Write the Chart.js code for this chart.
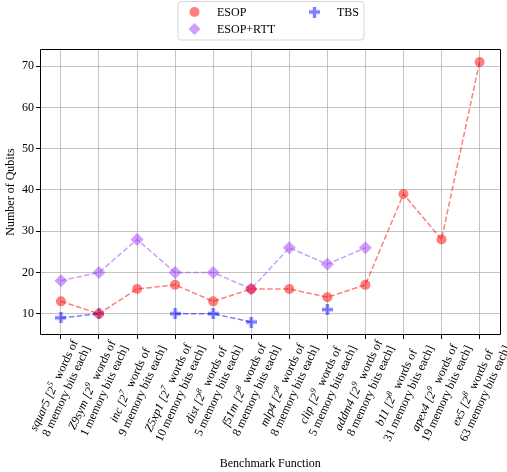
<!DOCTYPE html>
<html>
<head>
<meta charset="utf-8">
<script src="https://cdn.jsdelivr.net/npm/chart.js@4.4.1/dist/chart.umd.min.js"></script>
<style>
html,body{margin:0;padding:0;background:#fff;}
#wrap{width:507px;height:472px;position:relative;}
</style>
</head>
<body>
<div id="wrap"><canvas id="c" width="507" height="472"></canvas></div>
<script>
// ---- data ----
const names = ['squar5','Z9sym','inc','Z5xp1','dist','f51m','mlp4','clip','addm4','b11','apex4','ex5'];
const wordExp = ['5','9','7','7','8','8','8','9','9','8','9','8'];
const memBits = ['8','1','9','10','5','8','8','5','8','31','19','63'];
const esop    = [13,10,16,17,13,16,16,14,17,39,28,71];
const esopRtt = [18,20,28,20,20,16,26,22,26,null,null,null];
const tbs     = [9,10,null,10,10,8,null,11,null,null,null,null];
const yTicks  = [10,20,30,40,50,60,70];
const seriesNames = ['ESOP','ESOP+RTT','TBS'];

const FONT = '"Liberation Serif","Times New Roman",serif';
const RED = 'rgba(255,0,0,0.5)';
const VIO = 'rgba(160,60,250,0.5)';
const BLU = 'rgba(0,0,255,0.5)';

function plusCanvas(color){
  const s = 11, c = document.createElement('canvas');
  c.width = s; c.height = s;
  const g = c.getContext('2d');
  g.fillStyle = color;
  const t = 3.4, m = (s - t)/2;
  g.beginPath();
  g.moveTo(m,0); g.lineTo(m+t,0); g.lineTo(m+t,m); g.lineTo(s,m); g.lineTo(s,m+t);
  g.lineTo(m+t,m+t); g.lineTo(m+t,s); g.lineTo(m,s); g.lineTo(m,m+t); g.lineTo(0,m+t);
  g.lineTo(0,m); g.lineTo(m,m); g.closePath(); g.fill();
  return c;
}
const plusImg = plusCanvas(BLU);

const toXY = arr => arr.map((v,i)=>({x:i,y:v}));
const nMax = names.length - 1;
const xPad = 0.05 * nMax;
const yLo = 8, yHi = 71, yPad = 0.05*(yHi-yLo);

function drawParts(ctx, parts, cx, baseY){
  let w = 0;
  parts.forEach(p=>{ctx.font=p.font; p.w = ctx.measureText(p.t).width + (p.gap||0); w += p.w;});
  let x = cx - w/2;
  parts.forEach(p=>{ctx.font=p.font; ctx.fillText(p.t, x + (p.gap||0), baseY + (p.dy||0)); x += p.w;});
  return w;
}
function lineWidth(ctx, parts){
  let w=0; parts.forEach(p=>{ctx.font=p.font; w+=ctx.measureText(p.t).width + (p.gap||0);}); return w;
}

const overlay = {
  id:'overlay',
  afterDraw(chart){
    const ctx = chart.ctx, a = chart.chartArea;
    const xs = chart.scales.x;
    ctx.save();
    ctx.setLineDash([]);
    // frame
    const L = Math.round(a.left)+0.5, R = Math.round(a.right)-0.5, T = Math.round(a.top)+0.5, B = Math.round(a.bottom)-0.5;
    ctx.strokeStyle = '#000'; ctx.lineWidth = 1;
    ctx.beginPath();
    ctx.moveTo(L,T); ctx.lineTo(R,T); ctx.lineTo(R,B); ctx.lineTo(L,B); ctx.closePath();
    ctx.stroke();
    ctx.fillStyle = '#000';
    ctx.textBaseline = 'alphabetic';
    ctx.textAlign = 'left';
    // x tick labels (rotated, two lines)
    const th = 65*Math.PI/180, lh = 13.5;
    const it = 'italic 12px '+FONT, nf = '12px '+FONT, sf = 'italic 8.5px '+FONT;
    names.forEach((n,i)=>{
      const l1 = [{t:n+' [2',font:it},{t:wordExp[i],font:sf,dy:-5},{t:' words of',font:nf,gap:2.5}];
      const l2 = [{t:memBits[i]+' memory bits each]',font:nf}];
      const W = Math.max(lineWidth(ctx,l1), lineWidth(ctx,l2));
      const H = 2*lh;
      const bh = W*Math.sin(th) + H*Math.cos(th);
      const tx = xs.getPixelForValue(i);
      const cy = a.bottom + 3 + bh/2;
      ctx.save();
      ctx.translate(tx, cy);
      ctx.rotate(-th);
      drawParts(ctx, l1, 0, -lh + 9.5);
      drawParts(ctx, l2, 0, 9.5);
      ctx.restore();
    });
    // axis titles
    ctx.font = '12px '+FONT;
    ctx.textAlign = 'center';
    ctx.textBaseline = 'middle';
    ctx.fillText('Benchmark Function', (a.left+a.right)/2, 464);
    ctx.save();
    ctx.translate(10.5, (a.top+a.bottom)/2);
    ctx.rotate(-Math.PI/2);
    ctx.fillText('Number of Qubits', 0, 0);
    ctx.restore();
    // legend
    const lx=178, ly=1.5, lw=186, lhh=38.5, r=3;
    ctx.beginPath();
    ctx.moveTo(lx+r,ly); ctx.lineTo(lx+lw-r,ly); ctx.arcTo(lx+lw,ly,lx+lw,ly+r,r);
    ctx.lineTo(lx+lw,ly+lhh-r); ctx.arcTo(lx+lw,ly+lhh,lx+lw-r,ly+lhh,r);
    ctx.lineTo(lx+r,ly+lhh); ctx.arcTo(lx,ly+lhh,lx,ly+lhh-r,r);
    ctx.lineTo(lx,ly+r); ctx.arcTo(lx,ly,lx+r,ly,r); ctx.closePath();
    ctx.fillStyle='rgba(255,255,255,0.8)'; ctx.fill();
    ctx.strokeStyle='#d6d6d6'; ctx.lineWidth=1; ctx.stroke();
    ctx.fillStyle = RED; ctx.beginPath(); ctx.arc(194.5,12,5,0,Math.PI*2); ctx.fill();
    ctx.fillStyle = VIO; ctx.beginPath();
    ctx.moveTo(194.5,23); ctx.lineTo(200.5,29); ctx.lineTo(194.5,35); ctx.lineTo(188.5,29); ctx.closePath(); ctx.fill();
    ctx.drawImage(plusImg, 314.5-5.5, 12-5.5);
    ctx.fillStyle='#000'; ctx.textAlign='left'; ctx.font='12px '+FONT;
    ctx.fillText(seriesNames[0], 217, 12.5);
    ctx.fillText(seriesNames[1], 217, 29.5);
    ctx.fillText(seriesNames[2], 337, 12.5);
    ctx.restore();
  }
};

const dash = [5.5,2.4];
new Chart(document.getElementById('c'), {
  type:'line',
  data:{
    datasets:[
      {label:seriesNames[0], data:toXY(esop), borderColor:RED, backgroundColor:RED, borderWidth:1.5, borderDash:dash,
       pointStyle:'circle', pointRadius:5, pointBorderWidth:0, pointBackgroundColor:RED, pointHoverRadius:5},
      {label:seriesNames[1], data:toXY(esopRtt), borderColor:VIO, backgroundColor:VIO, borderWidth:1.5, borderDash:dash,
       pointStyle:'rectRot', pointRadius:6.5, pointBorderWidth:0, pointBackgroundColor:VIO, pointHoverRadius:6.5},
      {label:seriesNames[2], data:toXY(tbs), borderColor:BLU, backgroundColor:BLU, borderWidth:1.5, borderDash:dash,
       pointStyle:plusImg, pointRadius:5, pointBorderWidth:0, spanGaps:false}
    ]
  },
  options:{
    responsive:false, animation:false, events:[],
    layout:{padding:{top:49,right:6,left:0,bottom:0}},
    plugins:{legend:{display:false}, tooltip:{enabled:false}},
    scales:{
      x:{type:'linear', min:-xPad, max:nMax+xPad,
         afterBuildTicks:s=>{s.ticks = names.map((_,i)=>({value:i}));},
         afterFit:s=>{s.height = 472-335;},
         ticks:{callback:()=> '', padding:0},
         grid:{color:'rgba(176,176,176,0.75)', lineWidth:1, tickLength:4, tickColor:'#000'},
         border:{display:false}},
      y:{type:'linear', min:yLo-yPad, max:yHi+yPad,
         afterBuildTicks:s=>{s.ticks = yTicks.map(v=>({value:v}));},
         afterFit:s=>{s.width = 40;},
         ticks:{font:{family:FONT,size:12}, color:'#000', padding:2},
         grid:{color:'rgba(176,176,176,0.75)', lineWidth:1, tickLength:4, tickColor:'#000'},
         border:{display:false}}
    }
  },
  plugins:[overlay]
});
</script>
</body>
</html>
